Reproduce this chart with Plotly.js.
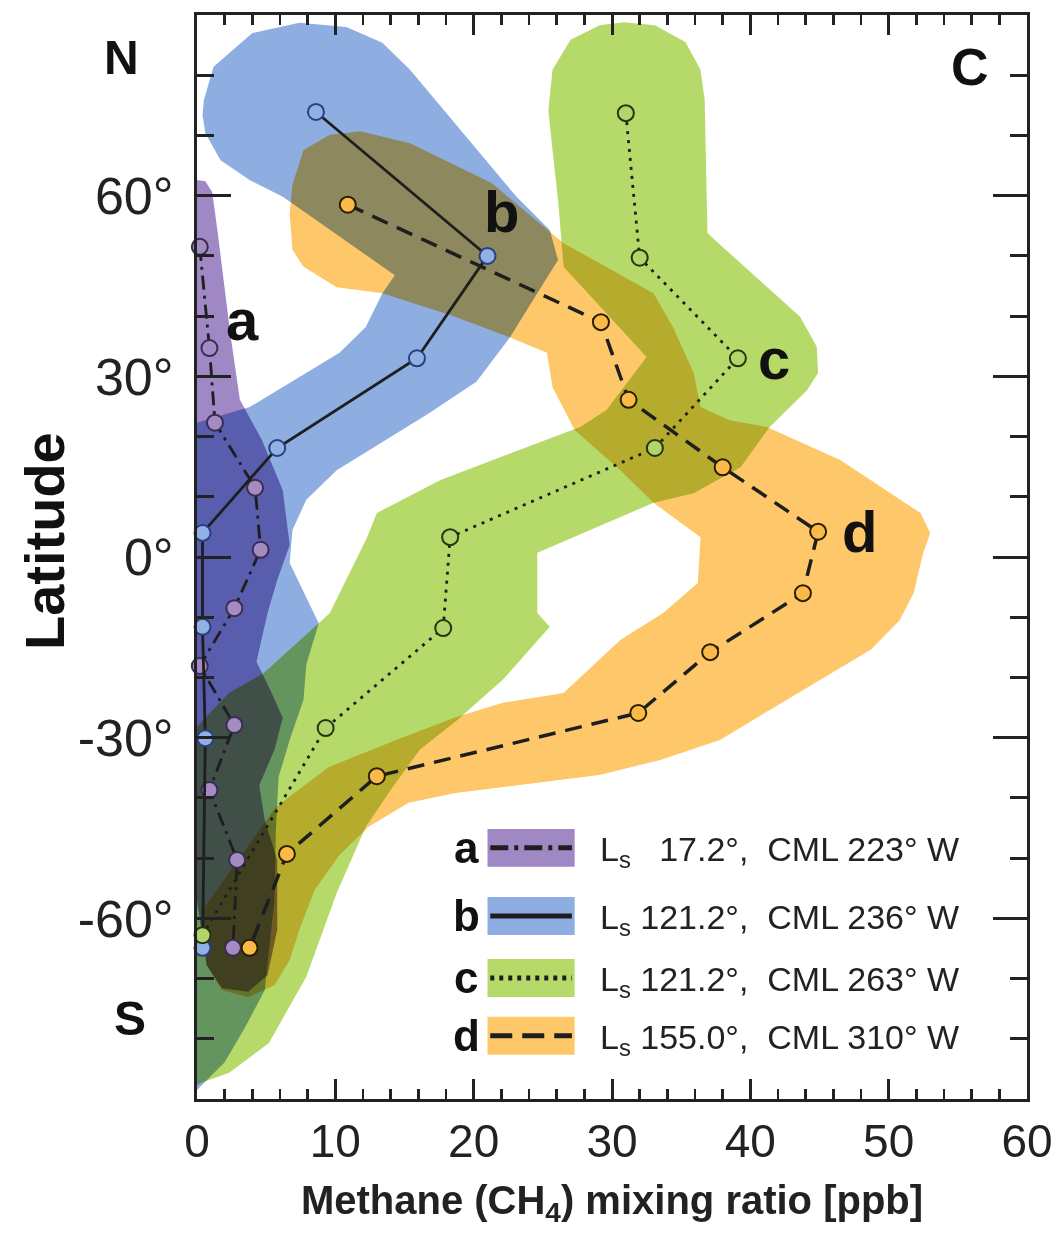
<!DOCTYPE html>
<html><head><meta charset="utf-8">
<script src="https://cdn.plot.ly/plotly-3.0.1.min.js"></script>
<style>
html,body{margin:0;padding:0;background:#fff;}
#chart{width:1057px;height:1236px;}
#chart .scatterlayer > .trace:nth-child(-n+4){mix-blend-mode:multiply;}
</style></head><body><div id="chart"></div>
<script>
// ---- measured profiles (latitude in degrees, CH4 in ppb) ----
const latA = [51.5, 34.7, 22.3, 11.5, 1.2, -8.5, -18.1, -27.9, -38.7, -50.3, -64.9];
const ch4A = [0.2, 0.9, 1.3, 4.2, 4.6, 2.7, 0.2, 2.7, 0.9, 2.9, 2.6];
const latB = [73.9, 50.0, 33.0, 18.1, 4.0, -11.6, -30.1, -64.9];
const ch4B = [8.6, 21.0, 15.9, 5.8, 0.4, 0.4, 0.6, 0.4];
const latC = [73.7, 49.7, 33.0, 18.1, 3.3, -11.8, -28.4, -62.8];
const ch4C = [31.0, 32.0, 39.1, 33.1, 18.3, 17.8, 9.3, 0.4];
const latD = [58.5, 39.0, 26.1, 14.9, 4.2, -6.0, -15.8, -25.9, -36.4, -49.3, -64.9];
const ch4D = [10.9, 29.2, 31.2, 38.0, 44.9, 43.8, 37.1, 31.9, 13.0, 6.5, 3.8];

// ---- uncertainty envelopes (outline vertices: CH4, latitude) ----
const bandAx = [0, 0.6, 1.1, 1.5, 2.4, 3.1, 4.7, 6.2, 6.7, 5.8, 5.1, 4.3, 5.3, 6.2, 5.6, 4.5, 4.9, 5.8, 5.8, 5.1, 3.7, 1.8, 0.7, 0.2, 0];
const bandAy = [62.6, 62.4, 60.6, 53.8, 37.2, 26.1, 19.4, 11.1, 2.0, -3.8, -9.3, -17.4, -22.1, -26.7, -32.0, -37.9, -43.7, -50.3, -61.9, -69.4, -72.2, -71.6, -67.8, -60.3, -57.0];
const bandBx = [0.5, 1.2, 4.0, 7.4, 10.8, 13.4, 15.4, 23.1, 25.5, 26.1, 22.6, 20.2, 16.8, 10.1, 7.9, 6.9, 6.7, 8.8, 7.9, 7.7, 6.7, 5.9, 5.7, 5.6, 4.9, 3.5, 2.0, 0.6, 0, 0, 3.8, 10.3, 12.2, 13.4, 14.3, 6.2, 3.8, 1.7, 0.6, 0.4];
const bandBy = [75.9, 81.4, 87.0, 88.7, 88.0, 85.4, 80.9, 59.8, 54.3, 49.3, 36.4, 29.1, 23.9, 14.4, 9.5, 4.5, -1.0, -11.0, -17.9, -23.7, -30.4, -36.5, -45.3, -57.0, -71.9, -78.0, -83.9, -87.2, -88.5, 22.3, 24.9, 33.9, 38.2, 43.8, 46.8, 59.8, 62.6, 65.9, 70.4, 73.4];
const bandCx = [25.4, 25.7, 27.0, 29.1, 30.9, 33.1, 35.3, 36.4, 36.7, 36.9, 37.6, 43.6, 44.8, 44.9, 44.1, 41.4, 39.3, 35.9, 33.0, 24.6, 24.6, 25.5, 22.1, 18.8, 16.1, 14.0, 12.2, 10.1, 7.9, 5.2, 2.3, 0.4, 0, 0, 2.3, 4.8, 8.8, 9.6, 12.3, 13.0, 17.6, 27.7, 29.6, 32.5, 26.5, 26.1, 25.7];
const bandCy = [74.2, 80.9, 85.9, 88.3, 88.8, 88.3, 85.5, 80.9, 75.9, 53.8, 52.3, 39.9, 34.9, 30.6, 27.7, 21.6, 14.9, 10.6, 9.0, 0.7, -9.3, -11.6, -20.4, -27.1, -32.0, -38.7, -44.8, -55.8, -69.7, -80.7, -85.7, -87.2, -87.7, -28.2, -22.6, -19.3, -11.0, -9.3, 3.3, 7.3, 12.8, 21.6, 24.4, 33.2, 48.2, 59.3, 67.6];
const bandDx = [6.7, 6.9, 7.7, 9.6, 11.8, 15.4, 21.3, 26.5, 33.0, 34.4, 35.9, 36.4, 38.5, 41.2, 46.5, 52.3, 53.0, 52.5, 51.8, 50.8, 48.7, 45.0, 41.4, 37.8, 33.5, 29.1, 23.4, 18.7, 15.3, 12.4, 10.3, 8.5, 7.4, 6.7, 5.6, 3.7, 1.8, 0.7, 0.4, 5.7, 9.5, 14.4, 18.7, 22.1, 26.5, 30.6, 33.7, 36.2, 36.4, 33.0, 30.6, 27.3, 25.7, 25.3, 22.6, 18.3, 13.4, 10.1, 7.7, 6.9];
const bandDy = [57.1, 61.8, 67.6, 70.1, 70.7, 68.7, 62.1, 52.1, 43.8, 38.2, 30.6, 24.9, 22.7, 21.6, 16.1, 7.3, 4.0, 0.7, -6.0, -10.5, -15.4, -20.4, -25.4, -30.4, -33.7, -36.2, -37.9, -39.2, -40.8, -44.8, -49.5, -55.3, -61.9, -66.9, -71.1, -73.1, -71.9, -67.8, -58.6, -41.5, -34.9, -30.4, -26.6, -24.2, -22.6, -13.8, -9.3, -4.3, 3.3, 9.0, 14.4, 21.1, 28.2, 33.9, 36.5, 40.2, 43.8, 44.8, 48.2, 51.0];

// ---- labels ----
const seriesKeys = ['a', 'b', 'c', 'd'];
const legendTexts = [
  'L<sub>s</sub>\u2007 17.2°,\u00a0 CML 223° W',
  'L<sub>s</sub> 121.2°,\u00a0 CML 236° W',
  'L<sub>s</sub> 121.2°,\u00a0 CML 263° W',
  'L<sub>s</sub> 155.0°,\u00a0 CML 310° W'
];
const xTickVals = [0, 10, 20, 30, 40, 50, 60];
const xTickText = ['0', '10', '20', '30', '40', '50', '60'];
const yTickVals = [-60, -30, 0, 30, 60];
const yTickText = ['-60°', '-30°', '0°', '30°', '60°'];

// ---- styles ----
const FONT = 'Liberation Sans, Arial, Helvetica, sans-serif';
const INK = '#1e1e1e';
const bandColors = ['#9f88c4', '#8eaee2', '#b6da6a', '#fec86a'];
const markerFill = ['#a48cc2', '#90b0e6', '#b2d46a', '#fbba48'];
const markerLine = ['#3a2c52', '#2b3f80', '#26350f', '#2a1e00'];
const mainDash = ['14px,6px,3px,6px', 'solid', '3px,6px', '17px,10px'];
const legendDash = ['18px,6px,4px,6px', 'solid', '4px,5px', '22px,10px'];

const bands = [[bandAx, bandAy], [bandBx, bandBy], [bandCx, bandCy], [bandDx, bandDy]];
const profiles = [[ch4A, latA], [ch4B, latB], [ch4C, latC], [ch4D, latD]];

const traces = [];
bands.forEach((b, i) => {
  traces.push({
    type: 'scatter', mode: 'lines', x: b[0], y: b[1],
    fill: 'toself', fillcolor: bandColors[i],
    line: {width: 0, color: bandColors[i]},
    hoverinfo: 'skip', showlegend: false
  });
});
profiles.forEach((p, i) => {
  traces.push({
    type: 'scatter', mode: 'lines+markers', x: p[0], y: p[1],
    name: seriesKeys[i],
    line: {color: INK, width: i === 3 ? 3.5 : 2.8, dash: mainDash[i]},
    marker: {size: 16, color: markerFill[i], line: {color: markerLine[i], width: 2}},
    cliponaxis: false, showlegend: false
  });
});

// in-plot letters next to each profile
const letterPos = [[3.3, 39.4], [22.0, 57.3], [41.7, 33.0], [47.9, 4.2]];
// legend rows (latitude of each row centre)
const legendRows = [-48.3, -59.6, -69.9, -79.5];

const annotations = [];
seriesKeys.forEach((k, i) => {
  annotations.push({x: letterPos[i][0], y: letterPos[i][1], xref: 'x', yref: 'y',
    text: '<b>' + k + '</b>', showarrow: false, xanchor: 'center', yanchor: 'middle',
    font: {family: FONT, size: 58, color: '#111'}});
  annotations.push({x: 19.45, y: legendRows[i], xref: 'x', yref: 'y',
    text: '<b>' + k + '</b>', showarrow: false, xanchor: 'center', yanchor: 'middle',
    font: {family: FONT, size: 44, color: '#111'}});
  annotations.push({x: 29.0, y: legendRows[i] - 0.6, xref: 'x', yref: 'y',
    text: legendTexts[i], showarrow: false, xanchor: 'left', yanchor: 'middle',
    font: {family: FONT, size: 34, color: '#222'}});
});
annotations.push({x: 55.9, y: 81.4, xref: 'x', yref: 'y', text: '<b>C</b>', showarrow: false,
  xanchor: 'center', yanchor: 'middle', font: {family: FONT, size: 52, color: '#111'}});
annotations.push({x: -0.0904, y: 83.0, xref: 'paper', yref: 'y', text: '<b>N</b>', showarrow: false,
  xanchor: 'center', yanchor: 'middle', font: {family: FONT, size: 48, color: '#111'}});
annotations.push({x: -0.0807, y: -76.7, xref: 'paper', yref: 'y', text: '<b>S</b>', showarrow: false,
  xanchor: 'center', yanchor: 'middle', font: {family: FONT, size: 48, color: '#111'}});
annotations.push({x: -0.184, y: 2.7, xref: 'paper', yref: 'y', text: '<b>Latitude</b>', showarrow: false,
  xanchor: 'center', yanchor: 'middle', textangle: -90, font: {family: FONT, size: 56, color: '#111'}});

const shapes = [];
legendRows.forEach((r, i) => {
  shapes.push({type: 'rect', xref: 'x', yref: 'y', x0: 21.0, x1: 27.3, y0: r - 3.15, y1: r + 3.15,
    fillcolor: bandColors[i], line: {width: 0}, layer: 'above'});
  shapes.push({type: 'line', xref: 'x', yref: 'y', x0: 21.2, x1: 27.1, y0: r, y1: r,
    line: {color: INK, width: 5, dash: legendDash[i]}, layer: 'above'});
});

const axisCommon = {
  ticks: 'inside', tickwidth: 3, tickcolor: '#222',
  showline: true, linewidth: 3, linecolor: '#222', mirror: 'ticks',
  showgrid: false, zeroline: false, automargin: false, fixedrange: true
};

const layout = {
  width: 1057, height: 1236,
  margin: {l: 197, r: 30, t: 15, b: 137},
  paper_bgcolor: '#fff', plot_bgcolor: '#fff',
  showlegend: false,
  xaxis: Object.assign({}, axisCommon, {
    range: [0, 60], tickmode: 'array', tickvals: xTickVals, ticktext: xTickText,
    ticklen: 20, ticklabelstandoff: 0,
    tickfont: {family: FONT, size: 46, color: '#222'},
    minor: {tickmode: 'linear', tick0: 0, dtick: 2, ticks: 'inside', ticklen: 10, tickwidth: 2.5, tickcolor: '#222', showgrid: false},
    title: {text: '<b>Methane (CH<sub>4</sub>) mixing ratio [ppb]</b>', font: {family: FONT, size: 40, color: '#222'}, standoff: 20}
  }),
  yaxis: Object.assign({}, axisCommon, {
    range: [-90, 90], tickmode: 'array', tickvals: yTickVals, ticktext: yTickText,
    ticklen: 34, ticklabelstandoff: 10,
    tickfont: {family: FONT, size: 52, color: '#222'},
    minor: {tickmode: 'linear', tick0: 0, dtick: 10, ticks: 'inside', ticklen: 17, tickwidth: 3, tickcolor: '#222', showgrid: false}
  }),
  annotations: annotations,
  shapes: shapes
};

Plotly.newPlot('chart', traces, layout, {displayModeBar: false, staticPlot: true});
</script></body></html>
